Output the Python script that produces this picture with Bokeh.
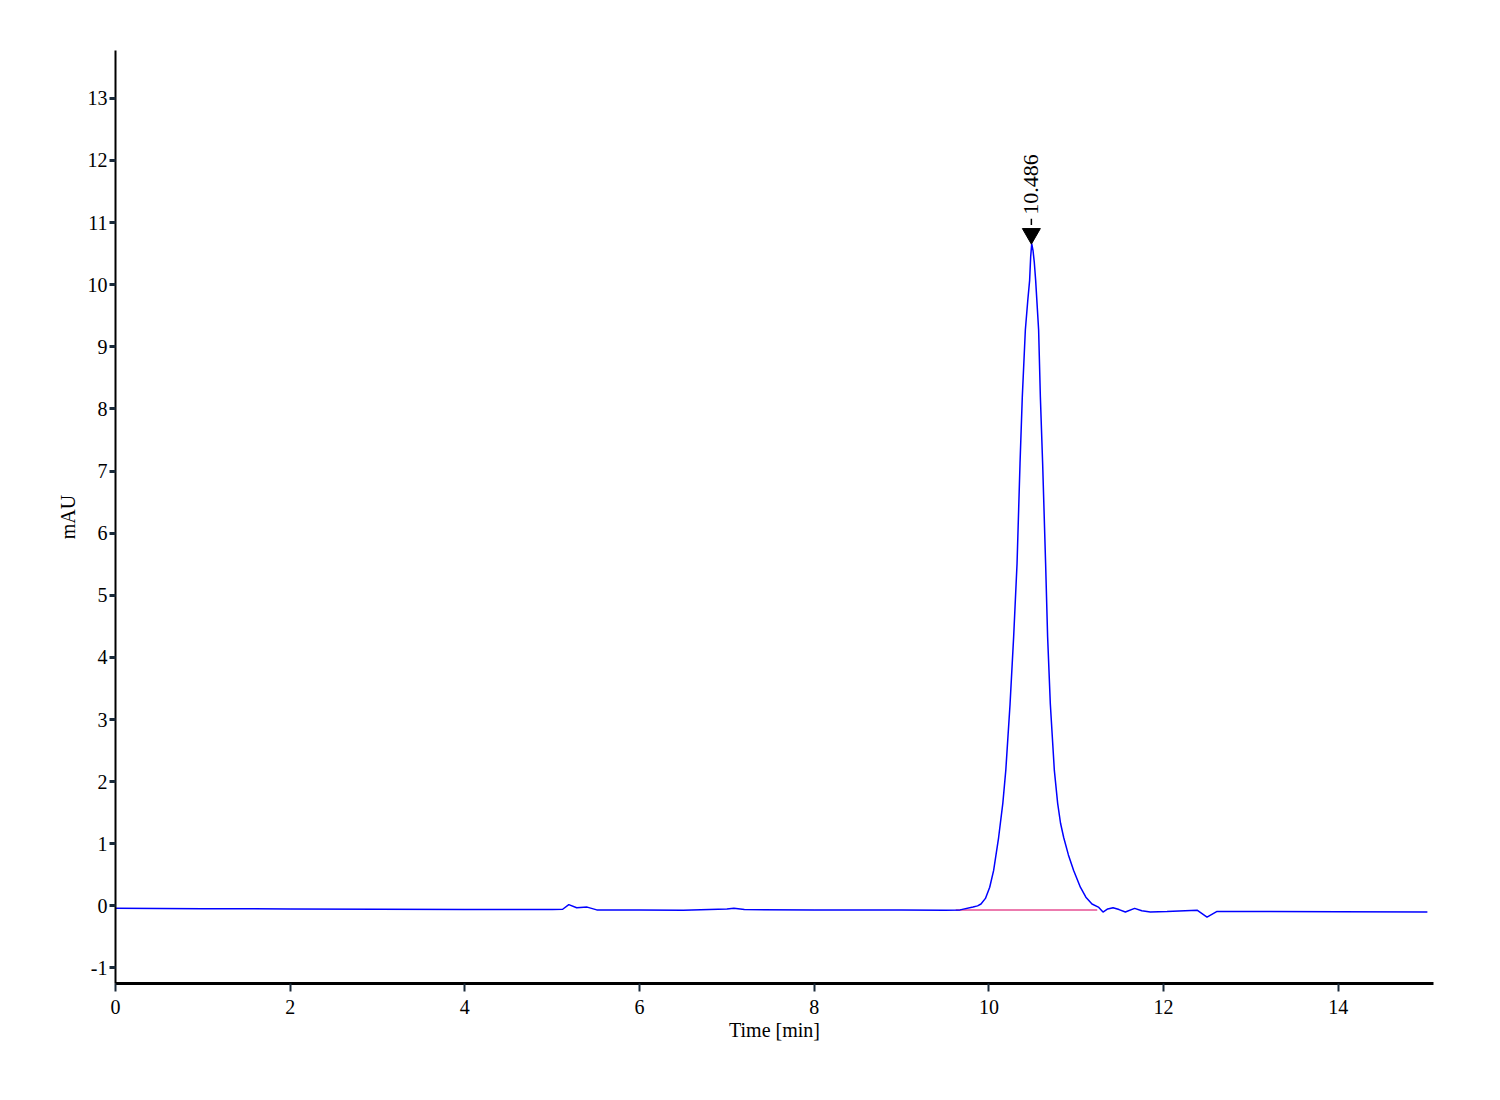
import math
from bokeh.plotting import figure
from bokeh.models import ColumnDataSource, FixedTicker, Range1d, CustomJSTickFormatter
from bokeh.core.properties import value
from bokeh.embed import file_html
from bokeh.resources import INLINE

# Chromatogram trace (time in min, signal in mAU)
time_min = [0.0, 1.0, 2.0, 3.0, 4.0, 5.0, 5.12, 5.19, 5.28, 5.40, 5.51, 6.0, 6.5,
            7.0, 7.08, 7.2, 8.0, 9.0, 9.5, 9.67, 9.818, 9.87, 9.909, 9.96, 10.009, 10.054,
            10.111, 10.159, 10.193, 10.242, 10.283, 10.322, 10.356, 10.382, 10.417,
            10.445, 10.466, 10.478, 10.49, 10.505, 10.52, 10.535, 10.569, 10.589, 10.615,
            10.649, 10.672, 10.703, 10.749, 10.787, 10.82, 10.856, 10.91, 10.970, 11.047,
            11.11, 11.180, 11.253, 11.306, 11.36, 11.421, 11.49, 11.562, 11.668, 11.75,
            11.848, 12.039, 12.383, 12.497, 12.612, 12.993, 14.0, 15.02]
signal_mau = [-0.04, -0.045, -0.05, -0.055, -0.06, -0.06, -0.055, 0.02, -0.03, -0.02,
              -0.065, -0.065, -0.07, -0.05, -0.04, -0.06, -0.065, -0.065, -0.07, -0.065,
              -0.02, 0.0, 0.03, 0.12, 0.30, 0.57, 1.10, 1.65, 2.18, 3.25, 4.33, 5.51, 7.12,
              8.19, 9.27, 9.75, 10.07, 10.45, 10.66, 10.55, 10.35, 10.07, 9.27, 8.19, 7.12,
              5.51, 4.33, 3.25, 2.18, 1.65, 1.33, 1.10, 0.82, 0.57, 0.30, 0.14, 0.03, -0.02,
              -0.10, -0.05, -0.03, -0.06, -0.10, -0.04, -0.08, -0.10, -0.09, -0.07, -0.18,
              -0.09, -0.09, -0.095, -0.10]

# Integration baseline of the peak
baseline_t = [9.62, 11.24]
baseline_v = [-0.065, -0.065]

# Peak annotation
peak_rt = [10.486]
peak_height = [10.66]
peak_label = ["10.486"]

x_ticks = [0, 2, 4, 6, 8, 10, 12, 14]
y_ticks = [-1, 0, 1, 2, 3, 4, 5, 6, 7, 8, 9, 10, 11, 12, 13]

FONT = "Liberation Serif"

p = figure(frame_width=1318, frame_height=933, output_backend="svg",
           toolbar_location=None, x_range=Range1d(0, 15.09), y_range=Range1d(-1.25, 13.77),
           min_border_left=115, min_border_top=50, min_border_right=20, min_border_bottom=70,
           background_fill_color="white", border_fill_color="white")
p.outline_line_color = None
p.xgrid.visible = False
p.ygrid.visible = False

p.line(baseline_t, baseline_v, line_color="#e0307f", line_width=1.5, line_alpha=0.85)
p.line(time_min, signal_mau, line_color="#0000ff", line_width=1.5)

# Peak marker and label
marker_y = [h + 0.16 for h in peak_height]
seg_y0 = [h + 0.3 for h in peak_height]
seg_y1 = [h + 0.40 for h in peak_height]
p.segment(x0=peak_rt, y0=seg_y0, x1=peak_rt, y1=seg_y1, line_color="black", line_width=1.5)
p.scatter(x=peak_rt, y=marker_y, marker="inverted_triangle", size=18,
          fill_color="black", line_color="black")
src = ColumnDataSource(dict(x=peak_rt, y=peak_height, t=peak_label))
p.text(x="x", y="y", text="t", source=src, angle=math.pi / 2, y_offset=-29,
       text_align="left", text_baseline="middle", text_font=value(FONT),
       text_font_size="22px", text_color="black")

# Axes
p.xaxis.ticker = FixedTicker(ticks=x_ticks)
p.yaxis.ticker = FixedTicker(ticks=y_ticks)
p.xaxis.formatter = CustomJSTickFormatter(code="return tick.toString();")
p.yaxis.formatter = CustomJSTickFormatter(code="return tick.toString();")
p.xaxis.axis_label = "Time [min]"
p.yaxis.axis_label = "mAU"
for ax in (p.xaxis, p.yaxis):
    ax.axis_label_text_font = FONT
    ax.axis_label_text_font_style = "normal"
    ax.axis_label_text_color = "black"
    ax.major_label_text_font = FONT
    ax.major_label_text_font_size = "20px"
    ax.major_label_text_color = "black"
    ax.axis_line_color = "black"
    ax.major_tick_line_color = "#1a2a3a"
    ax.minor_tick_line_color = None
    ax.major_tick_in = 0
p.xaxis.axis_line_width = 3
p.xaxis.major_tick_line_width = 2
p.xaxis.major_tick_out = 8
p.xaxis.major_label_standoff = 8
p.xaxis.axis_label_text_font_size = "20px"
p.xaxis.axis_label_standoff = 2
p.yaxis.axis_line_width = 2
p.yaxis.major_tick_line_width = 3
p.yaxis.major_tick_out = 6
p.yaxis.major_label_standoff = 2
p.yaxis.axis_label_text_font_size = "20px"
p.yaxis.axis_label_standoff = 6

open("out.html", "w").write(file_html(p, INLINE))
